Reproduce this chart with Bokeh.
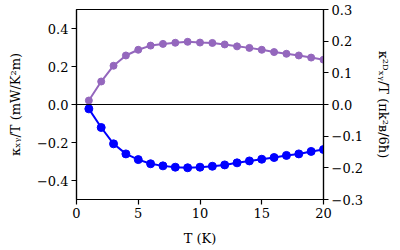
from bokeh.plotting import figure
from bokeh.models import Range1d, LinearAxis, Span, FixedTicker, CustomJSTickFormatter
from bokeh.embed import file_html
from bokeh.resources import INLINE

T = list(range(1, 21))
kappa_pos = [0.021, 0.121, 0.204, 0.258, 0.288, 0.310, 0.319, 0.325, 0.330, 0.326,
             0.324, 0.316, 0.306, 0.298, 0.288, 0.276, 0.267, 0.258, 0.247, 0.236]
kappa_neg = [-0.023, -0.121, -0.207, -0.260, -0.290, -0.312, -0.323, -0.330, -0.333, -0.330,
             -0.325, -0.318, -0.307, -0.297, -0.288, -0.279, -0.268, -0.260, -0.247, -0.237]
x_ticks = [0, 5, 10, 15, 20]
y_ticks = [-0.4, -0.2, 0.0, 0.2, 0.4]
y2_ticks = [-0.3, -0.2, -0.1, 0.0, 0.1, 0.2, 0.3]
right_label = "κ²ᴰₓᵧ/T (πk²ʙ/6ħ)"

FONT = "DejaVu Serif"
FS = "13px"
LFS = "13px"

p = figure(width=400, height=250, output_backend="svg", toolbar_location=None,
           x_range=Range1d(0, 20), y_range=Range1d(-0.5, 0.5),
           min_border_left=76, min_border_right=77, min_border_top=9, min_border_bottom=51)
p.extra_y_ranges = {"right": Range1d(-0.3, 0.3)}

p.grid.visible = False
p.outline_line_color = "black"
p.outline_line_width = 1.2
p.background_fill_color = "white"
p.border_fill_color = "white"

fmt1 = CustomJSTickFormatter(code="return (tick < -1e-9 ? '\u2212' : '') + Math.abs(tick).toFixed(1);")
fmt0 = CustomJSTickFormatter(code="return tick.toFixed(0);")

p.xaxis.ticker = FixedTicker(ticks=x_ticks)
p.xaxis.formatter = fmt0
p.xaxis.axis_label = "T (K)"
p.yaxis.ticker = FixedTicker(ticks=y_ticks)
p.yaxis.formatter = fmt1
p.yaxis.axis_label = "κₓᵧ/T (mW/K²m)"

ax2 = LinearAxis(y_range_name="right", ticker=FixedTicker(ticks=y2_ticks), formatter=fmt1,
                 axis_label=right_label)
p.add_layout(ax2, "right")

for ax in [p.xaxis[0], p.yaxis[0], ax2]:
    ax.major_label_text_font = FONT
    ax.major_label_text_font_size = FS
    ax.major_label_text_color = "black"
    ax.axis_label_text_font = FONT
    ax.axis_label_text_font_size = LFS
    ax.axis_label_text_font_style = "normal"
    ax.axis_label_text_color = "black"
    ax.major_tick_out = 5
    ax.major_tick_in = 0
    ax.minor_tick_out = 0
    ax.minor_tick_in = 0
    ax.axis_line_color = "black"
    ax.axis_line_width = 1.2
    ax.major_tick_line_color = "black"
    ax.major_tick_line_width = 1.2
    ax.major_label_standoff = 3

p.xaxis.axis_label_standoff = 10
p.yaxis.axis_label_standoff = 11
ax2.axis_label_standoff = 10

p.add_layout(Span(location=0, dimension="width", line_color="black", line_width=1.2))

purple = "#9467bd"
blue = "#0000ff"
p.line(T, kappa_pos, line_color=purple, line_width=2)
p.scatter(T, kappa_pos, size=7, fill_color=purple, line_color=purple)
p.line(T, kappa_neg, line_color=blue, line_width=2)
p.scatter(T, kappa_neg, size=8, fill_color=blue, line_color=blue)

open("out.html", "w").write(file_html(p, INLINE))
